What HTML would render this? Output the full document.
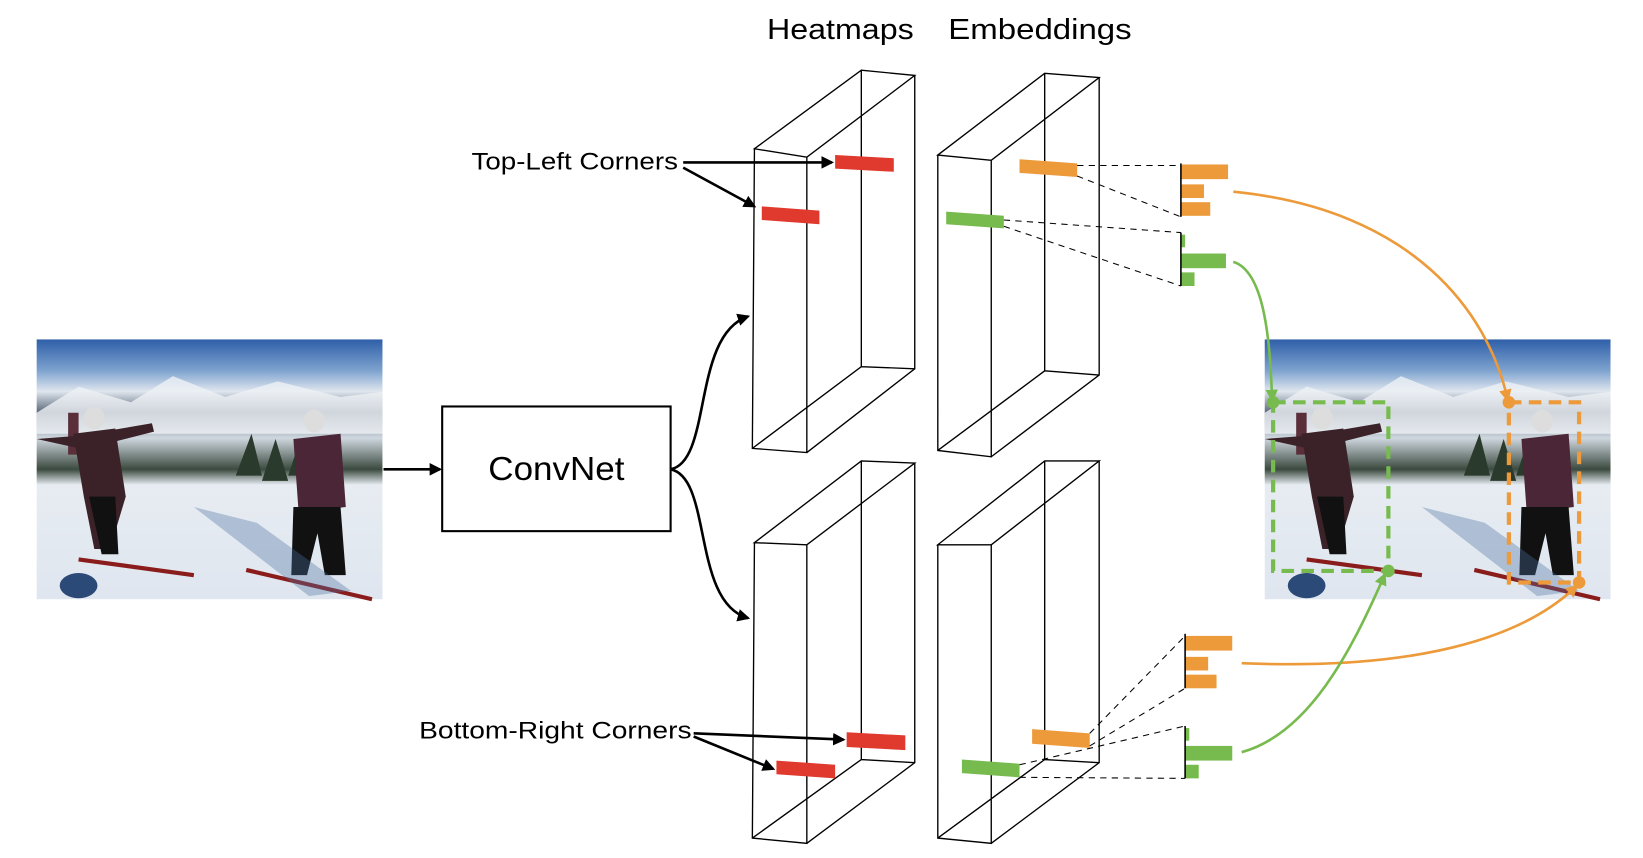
<!DOCTYPE html>
<html><head><meta charset="utf-8"><style>html,body{margin:0;padding:0;background:#fff;overflow:hidden}svg{display:block}</style></head><body>
<svg width="1643" height="858" viewBox="0 0 1568 819" preserveAspectRatio="none" xmlns="http://www.w3.org/2000/svg" font-family="Liberation Sans, sans-serif">
<defs>
<marker id="ab" markerWidth="12" markerHeight="12" refX="10" refY="6" orient="auto" markerUnits="userSpaceOnUse"><path d="M0,0 L12,6 L0,12 z" fill="#000"/></marker>
<marker id="ao" markerWidth="12" markerHeight="12" refX="6" refY="6" orient="auto" markerUnits="userSpaceOnUse"><path d="M0,0 L12,6 L0,12 z" fill="#ec9a3a"/></marker>
<marker id="ag" markerWidth="12" markerHeight="12" refX="6" refY="6" orient="auto" markerUnits="userSpaceOnUse"><path d="M0,0 L12,6 L0,12 z" fill="#77bb4f"/></marker>
<linearGradient id="ph" x1="0" y1="0" x2="0" y2="1">
<stop offset="0" stop-color="#2f5fa8"/><stop offset="0.12" stop-color="#7ea3cf"/><stop offset="0.2" stop-color="#dfe6ee"/><stop offset="0.28" stop-color="#5d6a7c"/><stop offset="0.38" stop-color="#cfd7df"/><stop offset="0.5" stop-color="#3b4a3f"/><stop offset="0.56" stop-color="#e7ecf2"/><stop offset="1" stop-color="#dfe6ef"/></linearGradient>
<g id="photo">
<rect x="0" y="0" width="330" height="248" fill="url(#ph)"/>
<path d="M0,70 L40,45 L90,60 L130,35 L180,55 L230,40 L290,55 L330,50 L330,90 L0,90z" fill="#eef1f5" opacity="0.8"/>
<path d="M190,130 L205,90 L215,130z M215,135 L228,95 L240,135z M240,130 L250,100 L262,130z" fill="#2a3a2c"/>
<rect x="30" y="70" width="10" height="40" fill="#5a2f3a"/>
<ellipse cx="55" cy="75" rx="10" ry="11" fill="#ddd"/>
<path d="M35,90 L75,85 L85,150 L70,200 L55,200 L45,150z" fill="#3b2228"/>
<path d="M50,150 L75,150 L78,205 L62,205z" fill="#111"/>
<path d="M0,95 L40,92 L110,80 L112,88 L45,105z" fill="#3b2228"/>
<ellipse cx="265" cy="78" rx="10" ry="11" fill="#ddd"/>
<path d="M245,95 L290,90 L295,160 L250,165z" fill="#4a2637"/>
<path d="M245,160 L290,160 L295,225 L275,225 L268,185 L258,225 L243,225z" fill="#111"/>
<path d="M40,210 L150,225 M200,220 L320,248" stroke="#8a1c1c" stroke-width="4"/>
<path d="M150,160 L210,175 L300,240 L260,245z" fill="#4a6fa0" opacity="0.35"/>
<ellipse cx="40" cy="235" rx="18" ry="12" fill="#2b4a78"/>
</g>
</defs>

<text x="732" y="37" font-size="27" fill="#000" textLength="140" lengthAdjust="spacingAndGlyphs">Heatmaps</text>
<text x="905" y="37" font-size="27" fill="#000" textLength="175" lengthAdjust="spacingAndGlyphs">Embeddings</text>

<use href="#photo" x="35" y="324"/>
<use href="#photo" x="1207" y="324"/>

<line x1="366" y1="448" x2="420" y2="448" stroke="#000" stroke-width="2.5" marker-end="url(#ab)"/>
<rect x="422" y="388" width="218" height="119" fill="#fff" stroke="#000" stroke-width="2"/>
<text x="531" y="458" font-size="32" text-anchor="middle" textLength="130" lengthAdjust="spacingAndGlyphs">ConvNet</text>
<path d="M640,448 C680,440 660,320 714,302" fill="none" stroke="#000" stroke-width="2.5" marker-end="url(#ab)"/>
<path d="M640,448 C680,456 660,575 714,590" fill="none" stroke="#000" stroke-width="2.5" marker-end="url(#ab)"/>

<g fill="none" stroke="#000" stroke-width="1.3">
<path d="M720,142 L770,150 L873,72 L822,67 Z M720,142 L718,428 L770,432 L770,150 M770,432 L873,352 L873,72 M718,428 L822,350 L822,67 M822,350 L873,352"/>
<path d="M895,148 L946,153 L1049,74 L997,70 Z M895,148 L895,430 L946,436 L946,153 M946,436 L1049,358 L1049,74 M895,430 L997,354 L997,70 M997,354 L1049,358"/>
<path d="M720,518 L770,520 L873,442 L822,440 Z M720,518 L718,800 L770,805 L770,520 M770,805 L873,728 L873,442 M718,800 L822,725 L822,440 M822,725 L873,728"/>
<path d="M895,520 L946,520 L1049,440 L997,440 Z M895,520 L895,800 L946,805 L946,520 M946,805 L1049,728 L1049,440 M895,800 L997,725 L997,440 M997,725 L1049,728"/>
</g>

<g fill="#e03a2f">
<path d="M797,148 L853,151 L853,164 L797,161z"/><path d="M727,197 L782,201 L782,214 L727,210z"/>
<path d="M808,699 L864,702 L864,716 L808,713z"/><path d="M741,726 L797,730 L797,743 L741,739z"/>
</g>
<path d="M973,152 L1028,156 L1028,169 L973,165z" fill="#ec9a3a"/>
<path d="M985,696 L1040,700 L1040,714 L985,710z" fill="#ec9a3a"/>
<path d="M903,202 L958,206 L958,218 L903,214z" fill="#77bb4f"/>
<path d="M918,725 L973,729 L973,742 L918,738z" fill="#77bb4f"/>

<text x="450" y="162" font-size="23" textLength="197" lengthAdjust="spacingAndGlyphs">Top-Left Corners</text>
<text x="400" y="705" font-size="23" textLength="260" lengthAdjust="spacingAndGlyphs">Bottom-Right Corners</text>
<g stroke="#000" stroke-width="2.5" fill="none">
<line x1="652" y1="155" x2="794" y2="155" marker-end="url(#ab)"/>
<line x1="652" y1="160" x2="720" y2="197" marker-end="url(#ab)"/>
<line x1="662" y1="700" x2="805" y2="706" marker-end="url(#ab)"/>
<line x1="662" y1="703" x2="738" y2="734" marker-end="url(#ab)"/>
</g>

<g stroke="#000" stroke-width="1" stroke-dasharray="6,5" fill="none">
<line x1="1028" y1="158" x2="1127" y2="158"/><line x1="1028" y1="168" x2="1127" y2="207"/>
<line x1="958" y1="210" x2="1127" y2="222"/><line x1="958" y1="216" x2="1127" y2="273"/>
<line x1="1040" y1="700" x2="1131" y2="607"/><line x1="1040" y1="712" x2="1131" y2="657"/>
<line x1="973" y1="742" x2="1131" y2="743"/><line x1="973" y1="730" x2="1131" y2="693"/>
</g>

<g fill="#ec9a3a"><rect x="1127" y="157" width="45" height="14"/><rect x="1127" y="176" width="22" height="13"/><rect x="1127" y="193" width="28" height="13"/>
<rect x="1131" y="607" width="45" height="14"/><rect x="1131" y="627" width="22" height="13"/><rect x="1131" y="644" width="30" height="13"/></g>
<g fill="#77bb4f"><rect x="1127" y="224" width="4" height="12"/><rect x="1127" y="242" width="43" height="14"/><rect x="1127" y="260" width="13" height="13"/>
<rect x="1131" y="695" width="4" height="12"/><rect x="1131" y="712" width="45" height="14"/><rect x="1131" y="730" width="13" height="13"/></g>
<g stroke="#000" stroke-width="1.5"><line x1="1127" y1="156" x2="1127" y2="207"/><line x1="1127" y1="222" x2="1127" y2="273"/><line x1="1131" y1="605" x2="1131" y2="657"/><line x1="1131" y1="693" x2="1131" y2="743"/></g>

<rect x="1215" y="384" width="110" height="161" fill="none" stroke="#77bb4f" stroke-width="4" stroke-dasharray="12,7"/>
<rect x="1440" y="384" width="67" height="172" fill="none" stroke="#ec9a3a" stroke-width="4" stroke-dasharray="12,7"/>
<g fill="none" stroke-width="2.5">
<path d="M1177,183 C1350,200 1420,300 1438,378" stroke="#ec9a3a" marker-end="url(#ao)"/>
<path d="M1177,250 C1210,260 1212,340 1214,378" stroke="#77bb4f" marker-end="url(#ag)"/>
<path d="M1185,633 C1350,640 1450,610 1502,562" stroke="#ec9a3a" marker-end="url(#ao)"/>
<path d="M1185,718 C1250,700 1290,620 1320,552" stroke="#77bb4f" marker-end="url(#ag)"/>
</g>
<circle cx="1215" cy="384" r="6" fill="#77bb4f"/><circle cx="1325" cy="545" r="6" fill="#77bb4f"/>
<circle cx="1440" cy="384" r="6" fill="#ec9a3a"/><circle cx="1507" cy="556" r="6" fill="#ec9a3a"/>
</svg>
</body></html>
